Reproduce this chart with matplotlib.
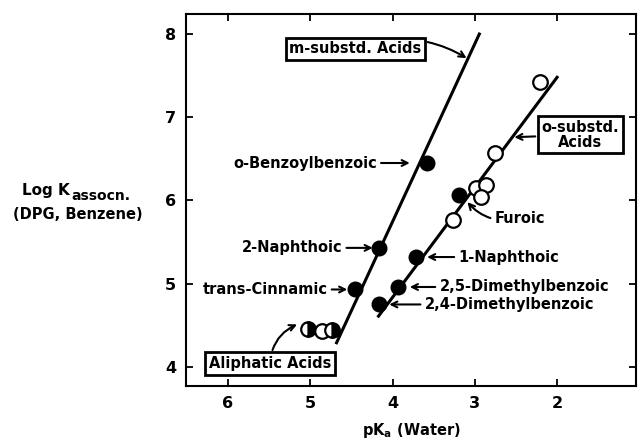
import matplotlib
matplotlib.use('Agg')
import matplotlib.pyplot as plt

# data (pKa in water, log K assoc.)
m_fill_x = [3.58, 4.17, 4.45]
m_fill_y = [6.45, 5.43, 4.93]

o_fill_x = [3.71, 3.93, 4.16, 3.19]
o_fill_y = [5.32, 4.96, 4.75, 6.07]

o_open_x = [2.21, 2.76, 2.98, 2.87, 2.92, 3.27]
o_open_y = [7.42, 6.57, 6.15, 6.19, 6.04, 5.76]

aliph_x = [5.03, 4.86, 4.74]
aliph_y = [4.46, 4.43, 4.44]
aliph_fill = ['right', 'none', 'right']

# fitted lines (end points)
m_line_x = [4.68, 2.945]
m_line_y = [4.29, 8.0]
o_line_x = [4.17, 2.0]
o_line_y = [4.61, 7.48]

x_ticks = [6, 5, 4, 3, 2]
y_ticks = [4, 5, 6, 7, 8]

fig = plt.figure(figsize=(6.38, 4.46), dpi=100)
ax = fig.add_axes([0.2915, 0.1345, 0.7055, 0.834])

ax.plot(m_line_x, m_line_y, color='black', lw=2.2, zorder=2)
ax.plot(o_line_x, o_line_y, color='black', lw=2.2, zorder=2)

ms = 10.5
ax.plot(m_fill_x, m_fill_y, 'o', color='black', ms=ms, zorder=3)
ax.plot(o_fill_x, o_fill_y, 'o', color='black', ms=ms, zorder=3)
ax.plot(o_open_x, o_open_y, 'o', mfc='white', mec='black', mew=1.6, ms=ms, zorder=3)
for x, y, fs in zip(aliph_x, aliph_y, aliph_fill):
    if fs == 'none':
        ax.plot(x, y, 'o', mfc='white', mec='black', mew=1.6, ms=ms, zorder=3)
    else:
        ax.plot(x, y, 'o', color='black', mfc='black', mfcalt='white',
                fillstyle=fs, mew=1.6, ms=ms, zorder=3)

ax.set_xlim(6.51, 1.04)
ax.set_ylim(3.77, 8.24)
ax.set_xticks(x_ticks)
ax.set_yticks(y_ticks)
ax.tick_params(direction='in', length=5, width=1.3, top=True, right=True,
               labelsize=11.5, pad=7)
for lab in ax.get_xticklabels() + ax.get_yticklabels():
    lab.set_fontweight('bold')
for s in ax.spines.values():
    s.set_linewidth(1.5)

tk = dict(fontsize=10.5, fontweight='bold', va='center')
arr = dict(arrowstyle='->', lw=1.5, color='black', shrinkA=1, shrinkB=0)
box = dict(boxstyle='square,pad=0.25', fc='white', ec='black', lw=2)

ax.annotate('m-substd. Acids', xy=(3.10, 7.71), xytext=(4.45, 7.82), ha='center',
            bbox=box, arrowprops=dict(arr, connectionstyle='arc3,rad=-0.25'), **tk)
ax.annotate('o-substd.\nAcids', xy=(2.52, 6.76), xytext=(1.72, 6.79), ha='center',
            bbox=box, arrowprops=arr, linespacing=1.0, **tk)
ax.annotate('o-Benzoylbenzoic', xy=(3.79, 6.45), xytext=(4.19, 6.45), ha='right',
            arrowprops=arr, **tk)
ax.annotate('2-Naphthoic', xy=(4.24, 5.43), xytext=(4.61, 5.43), ha='right',
            arrowprops=arr, **tk)
ax.annotate('trans-Cinnamic', xy=(4.55, 4.93), xytext=(4.79, 4.93), ha='right',
            arrowprops=arr, **tk)
ax.annotate('1-Naphthoic', xy=(3.58, 5.32), xytext=(3.20, 5.32), ha='left',
            arrowprops=arr, **tk)
ax.annotate('2,5-Dimethylbenzoic', xy=(3.79, 4.96), xytext=(3.43, 4.96), ha='left',
            arrowprops=arr, **tk)
ax.annotate('2,4-Dimethylbenzoic', xy=(4.04, 4.75), xytext=(3.61, 4.75), ha='left',
            arrowprops=arr, **tk)
ax.annotate('Furoic', xy=(3.09, 5.98), xytext=(2.76, 5.78), ha='left',
            arrowprops=dict(arr, connectionstyle='arc3,rad=-0.3'), **tk)
ax.annotate('Aliphatic Acids', xy=(5.16, 4.51), xytext=(5.49, 4.04), ha='center',
            bbox=box, arrowprops=dict(arr, connectionstyle='arc3,rad=-0.3'), **tk)

# axis labels
t1 = fig.text(22 / 638, 1 - 190 / 446, 'Log K', fontsize=11, fontweight='bold',
              ha='left', va='center')
ax.annotate('assocn.', xy=(1, 0.55), xycoords=t1, xytext=(1, 0),
            textcoords='offset points', fontsize=10, fontweight='bold',
            ha='left', va='top', annotation_clip=False)
fig.text(78 / 638, 1 - 214 / 446, '(DPG, Benzene)', fontsize=10.5, fontweight='bold',
         ha='center', va='center')
fig.text(411 / 638, 1 - 430 / 446, r'pK$_\mathbf{a}$ (Water)', fontsize=10.5,
         fontweight='bold', ha='center', va='center')

fig.savefig('out.png', dpi=100)
